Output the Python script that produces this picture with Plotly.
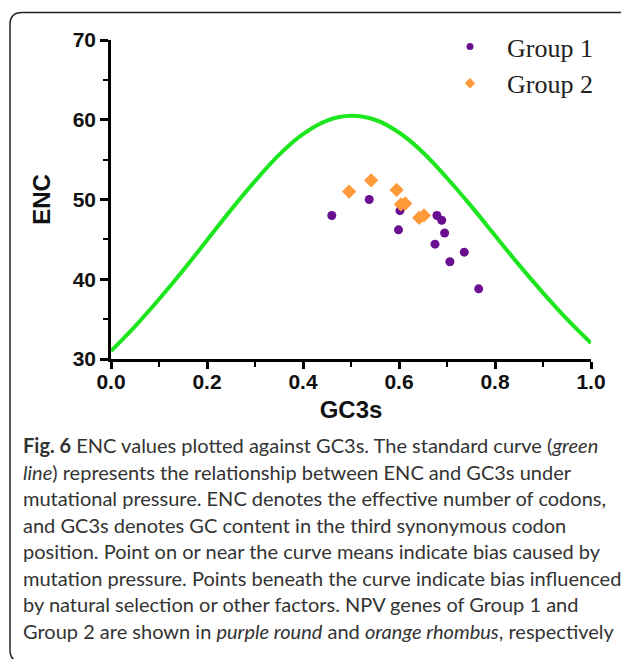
import plotly.graph_objects as go

# ---- data ----
curve_gc3s = [0.0, 0.05, 0.1, 0.15, 0.2, 0.25, 0.3, 0.35, 0.4, 0.45, 0.5,
              0.55, 0.6, 0.65, 0.7, 0.75, 0.8, 0.85, 0.9, 0.95, 1.0]
curve_enc = [31.0, 34.1, 37.5, 41.1, 44.9, 48.7, 52.3, 55.6, 58.2, 59.9, 60.5,
             60.0, 58.4, 55.9, 52.7, 49.2, 45.5, 41.8, 38.3, 35.0, 32.0]

g1_gc3s = [0.460, 0.538, 0.602, 0.599, 0.679, 0.689, 0.695, 0.675, 0.736, 0.706, 0.766]
g1_enc = [48.0, 50.0, 48.6, 46.2, 48.0, 47.4, 45.8, 44.4, 43.4, 42.2, 38.8]

g2_gc3s = [0.496, 0.542, 0.595, 0.604, 0.613, 0.642, 0.652]
g2_enc = [51.0, 52.4, 51.2, 49.4, 49.5, 47.7, 48.0]

x_ticks = [0.0, 0.2, 0.4, 0.6, 0.8, 1.0]
y_ticks = [30, 40, 50, 60, 70]

caption_lines = [
    "<b>Fig. 6</b> ENC values plotted against GC3s. The standard curve (<i>green</i>",
    "<i>line</i>) represents the relationship between ENC and GC3s under",
    "mutational pressure. ENC denotes the effective number of codons,",
    "and GC3s denotes GC content in the third synonymous codon",
    "position. Point on or near the curve means indicate bias caused by",
    "mutation pressure. Points beneath the curve indicate bias influenced",
    "by natural selection or other factors. NPV genes of Group 1 and",
    "Group 2 are shown in <i>purple round</i> and <i>orange rhombus</i>, respectively",
]

# ---- layout geometry (pixels); page body has an 8px margin ----
OFF = 8
W, H = 629 - OFF, 659 - OFF
ML, MR, MT, MB = 111 - OFF, 38, 40 - OFF, 300
PW = W - ML - MR
PH = H - MT - MB


def px(x):
    """window x pixel -> paper x"""
    return (x - OFF - ML) / PW


def py(y):
    """window y pixel -> paper y"""
    return (H - MB - (y - OFF)) / PH


fig = go.Figure()

fig.add_trace(go.Scatter(
    x=curve_gc3s, y=curve_enc, mode="lines",
    line=dict(color="#1ee61e", width=4, shape="spline"),
    showlegend=False, hoverinfo="skip"))

fig.add_trace(go.Scatter(
    x=g1_gc3s, y=g1_enc, mode="markers", name="Group 1", showlegend=False,
    marker=dict(color="#6b0f91", size=9, symbol="circle")))

fig.add_trace(go.Scatter(
    x=g2_gc3s, y=g2_enc, mode="markers", name="Group 2", showlegend=False,
    marker=dict(color="#ff9a3a", size=11, symbol="diamond")))

# legend entries (smaller symbols, as in the reference legend)
fig.add_trace(go.Scatter(
    x=[None], y=[None], mode="markers", name="Group 1",
    marker=dict(color="#6b0f91", size=7, symbol="circle")))
fig.add_trace(go.Scatter(
    x=[None], y=[None], mode="markers", name="Group 2",
    marker=dict(color="#ff9a3a", size=8, symbol="diamond")))

title_font = dict(family="Liberation Sans, Arial, sans-serif", size=24, color="#111")
tick_font = dict(family="Liberation Sans, Arial, sans-serif", size=21, color="#111", weight="bold")

fig.update_xaxes(
    range=[0, 1], tickvals=x_ticks, tickformat=".1f",
    showline=True, linecolor="black", linewidth=2.5,
    ticks="outside", ticklen=7, tickwidth=2.5, tickcolor="black",
    minor=dict(dtick=0.1, ticks="outside", ticklen=5, tickwidth=2, tickcolor="black"),
    showgrid=False, zeroline=False,
    tickfont=tick_font, ticklabelstandoff=-5,
    title=dict(text="<b>GC3s</b>", font=title_font, standoff=10),
)
fig.update_yaxes(
    range=[30, 70], tickvals=y_ticks,
    showline=True, linecolor="black", linewidth=2.5,
    ticks="outside", ticklen=8, tickwidth=2.5, tickcolor="black",
    minor=dict(dtick=5, ticks="outside", ticklen=5, tickwidth=2, tickcolor="black"),
    showgrid=False, zeroline=False,
    tickfont=tick_font,
    title=dict(text="<b>ENC</b>", font=title_font, standoff=16),
)

annotations = []
for i, line in enumerate(caption_lines):
    annotations.append(dict(
        text=line, xref="paper", yref="paper", x=px(21), y=py(445 + i * 26.55),
        xanchor="left", yanchor="middle", showarrow=False,
        font=dict(family="Lato, sans-serif", size=20, color="#333")))

# rounded border box (window pixel coords)
bl, bt, br, bb, r = 10, 12.5, 631, 662, 12
path = (f"M {px(bl)},{py(bb - r)} L {px(bl)},{py(bt + r)} "
        f"Q {px(bl)},{py(bt)} {px(bl + r)},{py(bt)} "
        f"L {px(br - r)},{py(bt)} Q {px(br)},{py(bt)} {px(br)},{py(bt + r)} "
        f"L {px(br)},{py(bb - r)} Q {px(br)},{py(bb)} {px(br - r)},{py(bb)} "
        f"L {px(bl + r)},{py(bb)} Q {px(bl)},{py(bb)} {px(bl)},{py(bb - r)} Z")

fig.update_layout(
    width=W, height=H,
    margin=dict(l=ML, r=MR, t=MT, b=MB, pad=0),
    paper_bgcolor="white", plot_bgcolor="white",
    showlegend=True,
    legend=dict(
        x=px(433), y=py(23), xanchor="left", yanchor="top",
        font=dict(family="Liberation Serif, Times New Roman, serif", size=26, color="#222"),
        itemwidth=64, bgcolor="rgba(0,0,0,0)",
    ),
    annotations=annotations,
    shapes=[dict(type="path", path=path, xref="paper", yref="paper",
                 line=dict(color="#222", width=1.5), fillcolor="rgba(0,0,0,0)", layer="below")],
)

fig.write_html("out.html")
